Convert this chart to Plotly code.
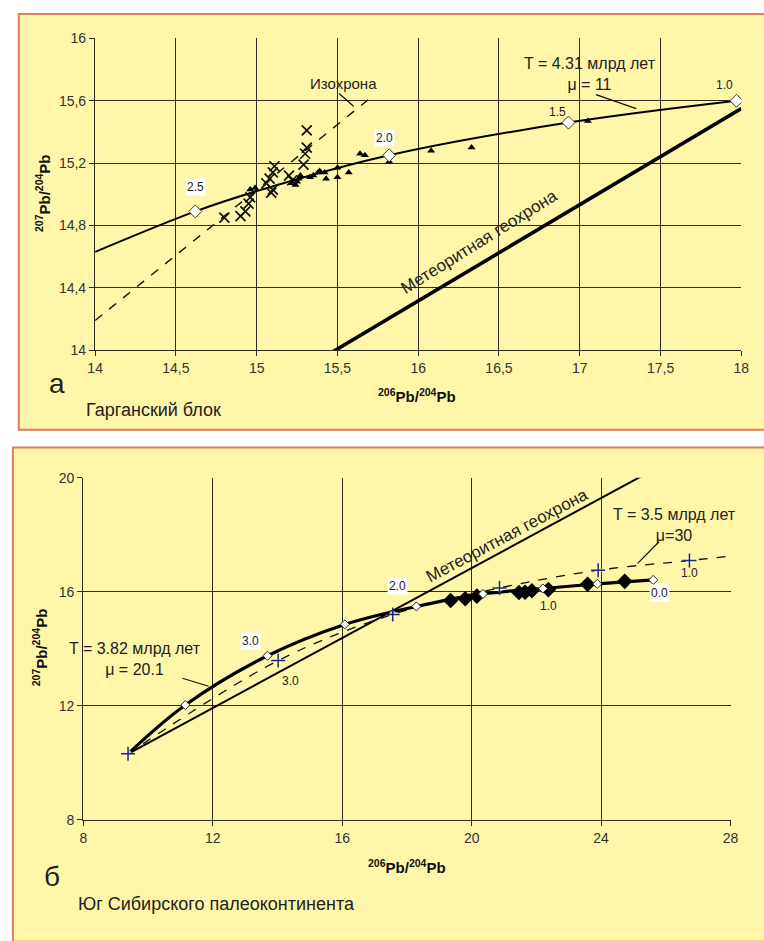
import plotly.graph_objects as go

W, H = 764, 941
FONT = "Liberation Sans"
CREAM = "#FFF6A9"
BORDER = "#E27A5C"
GRID = "#2e2b22"

# ---------------- panel a: Garganski block ----------------
growth_a_x = [14.0, 14.62, 15.0, 15.82, 16.93, 17.97]
growth_a_y = [14.63, 14.89, 15.02, 15.25, 15.46, 15.60]

age_a_x = [14.62, 15.82, 16.93, 17.97]
age_a_y = [14.89, 15.25, 15.46, 15.60]
age_a_lbl = ["2.5", "2.0", "1.5", "1.0"]

iso_x = [14.0, 15.73]
iso_y = [14.19, 15.64]

geo_a_x = [15.44, 18.0]
geo_a_y = [13.97, 15.55]

tri_x = [14.96, 14.99, 15.22, 15.24, 15.25, 15.26, 15.27, 15.33, 15.35, 15.38, 15.39,
         15.42, 15.43, 15.50, 15.50, 15.57, 15.64, 15.67, 15.82, 16.08, 16.33, 17.05]
tri_y = [15.03, 15.04, 15.07, 15.06, 15.08, 15.10, 15.12, 15.11, 15.12, 15.14, 15.15,
         15.14, 15.10, 15.17, 15.11, 15.14, 15.26, 15.25, 15.21, 15.28, 15.30, 15.47]

xmark_x = [15.31, 15.31, 15.30, 15.29, 15.11, 15.10, 15.08, 15.06, 15.10, 15.09,
           15.20, 15.22, 14.96, 14.95, 14.93, 14.90, 14.80]
xmark_y = [15.41, 15.30, 15.26, 15.19, 15.18, 15.14, 15.10, 15.07, 15.03, 15.01,
           15.12, 15.09, 14.98, 14.94, 14.89, 14.86, 14.85]

xa_ticks = [14, 14.5, 15, 15.5, 16, 16.5, 17, 17.5, 18]
xa_text = ["14", "14,5", "15", "15,5", "16", "16,5", "17", "17,5", "18"]
ya_ticks = [14, 14.4, 14.8, 15.2, 15.6, 16]
ya_text = ["14", "14,4", "14,8", "15,2", "15,6", "16"]

# ---------------- panel б: south of the Siberian paleocontinent ----------------
growth_b_x = [9.38, 11.15, 13.69, 16.08, 18.29, 20.35, 22.2, 23.88, 25.61]
growth_b_y = [10.32, 12.03, 13.76, 14.86, 15.49, 15.93, 16.12, 16.28, 16.42]
age_b_lbl = ["", "", "3.0", "", "2.0", "", "1.0", "", "0.0"]

mu30_x = [9.38, 14.02, 17.56, 20.86, 23.91, 26.73, 28.15]
mu30_y = [10.32, 13.59, 15.21, 16.14, 16.76, 17.10, 17.28]
mu30_pts_x = [9.38, 14.02, 17.56, 20.86, 23.91, 26.73]
mu30_pts_y = [10.32, 13.59, 15.21, 16.14, 16.76, 17.10]

geo_b_x = [9.38, 25.43]
geo_b_y = [10.32, 20.17]

dia_x = [19.35, 19.80, 20.16, 21.46, 21.65, 21.86, 22.37, 23.58, 24.73]
dia_y = [15.70, 15.76, 15.85, 15.98, 15.99, 16.04, 16.08, 16.27, 16.37]

xb_ticks = [8, 12, 16, 20, 24, 28]
yb_ticks = [8, 12, 16, 20]


def px_x(p):
    return p / W


def px_y(p):
    return 1 - p / H


fig = go.Figure()

# panel a traces
fig.add_trace(go.Scatter(x=iso_x, y=iso_y, mode="lines",
                         line=dict(color="#111", width=1.4, dash="dash"),
                         xaxis="x", yaxis="y"))
fig.add_trace(go.Scatter(x=geo_a_x, y=geo_a_y, mode="lines",
                         line=dict(color="#000", width=3.6), xaxis="x", yaxis="y"))
fig.add_trace(go.Scatter(x=growth_a_x, y=growth_a_y, mode="lines",
                         line=dict(color="#000", width=2, shape="spline"),
                         xaxis="x", yaxis="y"))
fig.add_trace(go.Scatter(x=xmark_x, y=xmark_y, mode="markers",
                         marker=dict(symbol="x-thin", size=10,
                                     line=dict(color="#111", width=1.7)),
                         xaxis="x", yaxis="y"))
fig.add_trace(go.Scatter(x=tri_x, y=tri_y, mode="markers",
                         marker=dict(symbol="triangle-up", size=7, color="#000"),
                         xaxis="x", yaxis="y"))
fig.add_trace(go.Scatter(x=age_a_x, y=age_a_y, mode="markers",
                         marker=dict(symbol="diamond", size=10, color="white",
                                     line=dict(color="#333", width=1)),
                         xaxis="x", yaxis="y"))

# panel б traces
fig.add_trace(go.Scatter(x=geo_b_x, y=geo_b_y, mode="lines",
                         line=dict(color="#000", width=2), xaxis="x2", yaxis="y2"))
fig.add_trace(go.Scatter(x=mu30_x, y=mu30_y, mode="lines",
                         line=dict(color="#111", width=1.3, dash="dash", shape="spline"),
                         xaxis="x2", yaxis="y2"))
fig.add_trace(go.Scatter(x=growth_b_x, y=growth_b_y, mode="lines",
                         line=dict(color="#000", width=3.2, shape="spline"),
                         xaxis="x2", yaxis="y2"))
fig.add_trace(go.Scatter(x=dia_x, y=dia_y, mode="markers",
                         marker=dict(symbol="diamond", size=12, color="#000"),
                         xaxis="x2", yaxis="y2"))
fig.add_trace(go.Scatter(x=growth_b_x[1:], y=growth_b_y[1:], mode="markers",
                         marker=dict(symbol="diamond", size=7, color="white",
                                     line=dict(color="#222", width=1)),
                         xaxis="x2", yaxis="y2"))
# white halo under the μ=30 model-age crosses
fig.add_trace(go.Scatter(x=mu30_pts_x, y=mu30_pts_y, mode="markers",
                         marker=dict(symbol="circle", size=7, color="rgba(255,255,255,0.8)"),
                         xaxis="x2", yaxis="y2"))
fig.add_trace(go.Scatter(x=mu30_pts_x, y=mu30_pts_y, mode="markers",
                         marker=dict(symbol="cross-thin", size=10,
                                     line=dict(color="#1d2a6e", width=1.5)),
                         xaxis="x2", yaxis="y2"))

axis_common = dict(showgrid=True, gridcolor=GRID, gridwidth=1.4,
                   showline=True, linecolor=GRID, linewidth=1.4,
                   ticks="outside", ticklen=5, tickcolor=GRID, tickwidth=1.3,
                   zeroline=False, tickfont=dict(family=FONT, size=14, color="#333"),
                   fixedrange=True)

fig.update_layout(
    width=W, height=H, margin=dict(l=0, r=0, t=0, b=0),
    paper_bgcolor="white", plot_bgcolor=CREAM, showlegend=False,
    xaxis=dict(domain=[px_x(89), px_x(749)], range=[14, 18], anchor="y",
               tickvals=xa_ticks, ticktext=xa_text, **axis_common),
    yaxis=dict(domain=[px_y(348), px_y(31)], range=[14, 16], anchor="x",
               tickvals=ya_ticks, ticktext=ya_text, **axis_common),
    xaxis2=dict(domain=[px_x(77), px_x(738)], range=[8, 28], anchor="y2",
                tickvals=xb_ticks, **axis_common),
    yaxis2=dict(domain=[px_y(826), px_y(478)], range=[8, 20], anchor="x2",
                tickvals=yb_ticks, **axis_common),
)

# panel backgrounds
shapes = [
    dict(type="rect", xref="paper", yref="paper", x0=px_x(11), x1=px_x(775),
         y0=px_y(429), y1=px_y(6), fillcolor=CREAM, line=dict(color=BORDER, width=2),
         layer="below"),
    dict(type="rect", xref="paper", yref="paper", x0=px_x(5), x1=px_x(775),
         y0=px_y(950), y1=px_y(447), fillcolor=CREAM, line=dict(color=BORDER, width=2),
         layer="below"),
    # leader lines
    dict(type="line", xref="x", yref="y", x0=15.51, y0=15.647, x1=15.60, y1=15.565,
         line=dict(color="#111", width=1.2)),
    dict(type="line", xref="x", yref="y", x0=17.10, y0=15.64, x1=17.35, y1=15.55,
         line=dict(color="#111", width=1.2)),
    dict(type="line", xref="x2", yref="y2", x0=25.79, y0=17.76, x1=25.13, y1=17.0,
         line=dict(color="#111", width=1.2)),
    dict(type="line", xref="x2", yref="y2", x0=11.06, y0=12.97, x1=11.87, y1=12.69,
         line=dict(color="#111", width=1.2)),
]
fig.update_layout(shapes=shapes)

ann = []


def text(x, y, s, size=16, color="#222", angle=0, xanchor="center", bold=False):
    if bold:
        s = "<b>" + s + "</b>"
    ann.append(dict(x=px_x(x), y=px_y(y), xref="paper", yref="paper", text=s,
                    showarrow=False, xanchor=xanchor, yanchor="middle", textangle=angle,
                    align="center", font=dict(family=FONT, size=size, color=color)))


def point_label(xr, yr, x, y, s, dx, dy, box):
    ann.append(dict(x=x, y=y, xref=xr, yref=yr, text=s, showarrow=False,
                    xshift=dx, yshift=-dy, bgcolor="white" if box else None,
                    borderpad=1,
                    font=dict(family=FONT, size=12, color="#222")))


# panel a labels
offs_a = [(0, -24, True), (-5, -17, True), (-11, -11, False), (-12, -16, False)]
for xv, yv, s, (dx, dy, box) in zip(age_a_x, age_a_y, age_a_lbl, offs_a):
    point_label("x", "y", xv, yv, s, dx, dy, box)

text(343, 77, "Изохрона", size=15)
text(594, 67, "T = 4.31 млрд лет<br>μ = 11", size=16)
text(482, 238, "Метеоритная геохрона", size=17, angle=-32)
text(36, 188, "<sup>207</sup>Pb/<sup>204</sup>Pb", size=15, angle=-90, bold=True, color="#111")
text(418, 394, "<sup>206</sup>Pb/<sup>204</sup>Pb", size=15, bold=True, color="#111")
text(40, 382, "а", size=28, xanchor="left")
text(78, 409, "Гарганский блок", size=18, xanchor="left")

# panel б labels
offs_b = {2: (-17, -15, True), 4: (-19, -20, True), 6: (6, 18, False), 8: (6, 13, True)}
for i, (dx, dy, box) in offs_b.items():
    point_label("x2", "y2", growth_b_x[i], growth_b_y[i], age_b_lbl[i], dx, dy, box)
point_label("x2", "y2", mu30_pts_x[1], mu30_pts_y[1], "3.0", 12, 20, False)
point_label("x2", "y2", mu30_pts_x[5], mu30_pts_y[5], "1.0", 0, 12, False)

text(681, 526, "T = 3.5 млрд лет<br>μ=30", size=16)
text(130, 662, "T = 3.82 млрд лет<br>μ = 20.1", size=16)
text(510, 537, "Метеоритная геохрона", size=17, angle=-28)
text(33, 650, "<sup>207</sup>Pb/<sup>204</sup>Pb", size=15, angle=-90, bold=True, color="#111")
text(408, 873, "<sup>206</sup>Pb/<sup>204</sup>Pb", size=15, bold=True, color="#111")
text(35, 884, "б", size=28, xanchor="left")
text(69, 912, "Юг Сибирского палеоконтинента", size=18, xanchor="left")

fig.update_layout(annotations=ann)

fig.write_html("out.html")
